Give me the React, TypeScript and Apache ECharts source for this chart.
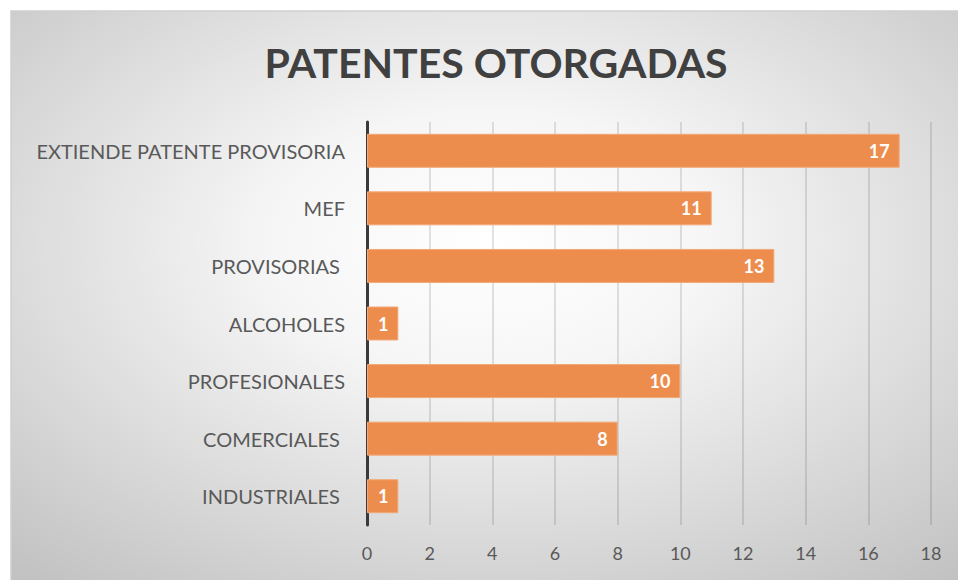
import React, { useEffect, useRef } from "react";
import * as echarts from "echarts";

const categories = [
  "EXTIENDE PATENTE PROVISORIA",
  "MEF",
  "PROVISORIAS ",
  "ALCOHOLES",
  "PROFESIONALES",
  "COMERCIALES ",
  "INDUSTRIALES ",
];
const values = [17, 11, 13, 1, 10, 8, 1];
const titleText = "PATENTES OTORGADAS";
const axisMin = 0;
const axisMax = 18;
const axisStep = 2;

export default function App() {
  const ref = useRef<HTMLDivElement>(null);
  useEffect(() => {
    document.body.style.margin = "0";
    const chart = echarts.init(ref.current!, null, { renderer: "svg" });
    const font = "Lato, 'Open Sans', sans-serif";
    chart.setOption({
      animation: false,
      backgroundColor: "#ffffff",
      graphic: [
        {
          type: "rect",
          z: -10,
          silent: true,
          shape: { x: 11, y: 11, width: 960, height: 580 },
          style: {
            fill: new echarts.graphic.RadialGradient(0.5, 0.4, 0.75, [
              { offset: 0, color: "#ffffff" },
              { offset: 0.3, color: "#f6f6f6" },
              { offset: 1, color: "#c2c2c2" },
            ]),
            stroke: "#d0d0d0",
            lineWidth: 1.5,
          },
        },
      ],
      title: {
        text: titleText,
        left: 491,
        textAlign: "center",
        top: 37,
        textStyle: {
          fontFamily: font,
          fontSize: 41,
          fontWeight: "bold",
          color: "#404040",
        },
      },
      grid: { left: 367, right: 27, top: 122, bottom: 55, containLabel: false },
      xAxis: {
        type: "value",
        min: axisMin,
        max: axisMax,
        interval: axisStep,
        axisLine: { show: false },
        axisTick: { show: false },
        axisLabel: {
          color: "#595959",
          fontFamily: font,
          fontSize: 18,
          margin: 19,
        },
        splitLine: { show: true, lineStyle: { color: "rgba(0,0,0,0.15)", width: 1.5 } },
      },
      yAxis: {
        type: "category",
        data: categories,
        inverse: true,
        axisLine: { show: true, lineStyle: { color: "#3a3a3a", width: 3 } },
        axisTick: { show: false },
        axisLabel: {
          color: "#595959",
          fontFamily: font,
          fontSize: 20,
          margin: 22,
        },
        splitLine: { show: false },
      },
      series: [
        {
          type: "bar",
          data: values,
          barCategoryGap: "41%",
          itemStyle: { color: "#ED8D4D", borderColor: "#F2A877", borderWidth: 1 },
          label: {
            show: true,
            position: "insideRight",
            distance: 10,
            color: "#ffffff",
            fontFamily: font,
            fontWeight: "bold",
            fontSize: 18,
          },
        },
      ],
    });
    return () => chart.dispose();
  }, []);
  return (
    <div
      ref={ref}
      style={{ position: "absolute", left: 0, top: 0, width: 958, height: 580 }}
    />
  );
}
